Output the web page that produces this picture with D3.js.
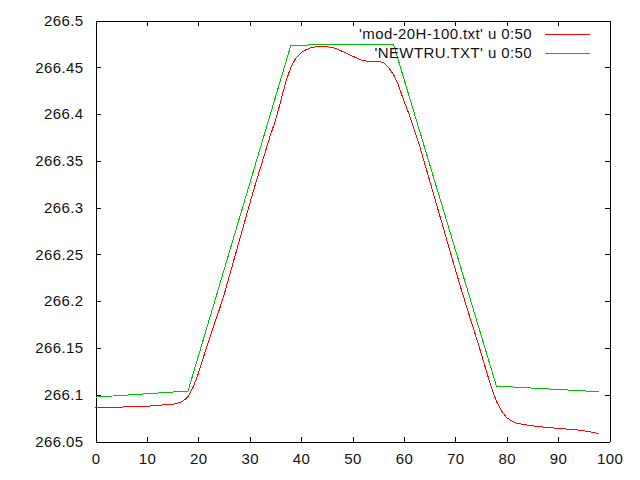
<!DOCTYPE html>
<html>
<head>
<meta charset="utf-8">
<script src="https://cdn.jsdelivr.net/npm/d3@7"></script>
<style>
  html, body { margin: 0; padding: 0; background: #fff; }
  svg { display: block; }
  text { font-family: "Liberation Sans", Arial, sans-serif; font-size: 15px; fill: #111; letter-spacing: 0.4px; }
</style>
</head>
<body>
<svg id="chart" width="640" height="480"></svg>
<script>
// Row index (gnuplot "u 0:50": x is the row number)
const rowIndex = d3.range(0, 99);

// 'mod-20H-100.txt' u 0:50  (red)
const modValues = [
  266.0861, 266.0862, 266.0863, 266.0864, 266.0866, 266.0868, 266.0870, 266.0872, 266.0874, 266.0876,
  266.0878, 266.0880, 266.0885, 266.0890, 266.0893, 266.0898, 266.0910, 266.0930, 266.0980, 266.1080,
  266.1225, 266.1400, 266.1570, 266.1740, 266.1895, 266.2065, 266.2260, 266.2455, 266.2650, 266.2845,
  266.3040, 266.3230, 266.3410, 266.3590, 266.3770, 266.3930, 266.4130, 266.4340, 266.4500, 266.4600,
  266.4655, 266.4690, 266.4710, 266.4720, 266.4722, 266.4720, 266.4712, 266.4695, 266.4670, 266.4645,
  266.4620, 266.4595, 266.4570, 266.4565, 266.4565, 266.4562, 266.4550, 266.4500, 266.4420, 266.4300,
  266.4140, 266.4000, 266.3830, 266.3670, 266.3480, 266.3290, 266.3100, 266.2910, 266.2720, 266.2530,
  266.2340, 266.2155, 266.1975, 266.1800, 266.1625, 266.1450, 266.1260, 266.1080, 266.0930, 266.0825,
  266.0755, 266.0718, 266.0695, 266.0685, 266.0675, 266.0668, 266.0662, 266.0655, 266.0650, 266.0645,
  266.0640, 266.0636, 266.0632, 266.0628, 266.0622, 266.0615, 266.0605, 266.0595, 266.0585
];

// 'NEWTRU.TXT' u 0:50  (green)
const newtruValues = [
  266.0974, 266.0978, 266.0981, 266.0985, 266.0989, 266.0992, 266.0996, 266.0999, 266.1003, 266.1007,
  266.1010, 266.1014, 266.1018, 266.1021, 266.1025, 266.1029, 266.1032, 266.1036, 266.1040, 266.1225,
  266.1409, 266.1594, 266.1779, 266.1963, 266.2148, 266.2333, 266.2517, 266.2702, 266.2887, 266.3071,
  266.3256, 266.3441, 266.3625, 266.3810, 266.3995, 266.4179, 266.4364, 266.4548, 266.4733, 266.4735,
  266.4735, 266.4735, 266.4743, 266.4743, 266.4743, 266.4743, 266.4743, 266.4743, 266.4743, 266.4743,
  266.4743, 266.4743, 266.4743, 266.4743, 266.4743, 266.4743, 266.4743, 266.4743, 266.4743, 266.4560,
  266.4378, 266.4195, 266.4013, 266.3830, 266.3648, 266.3465, 266.3282, 266.3100, 266.2917, 266.2735,
  266.2552, 266.2370, 266.2187, 266.2005, 266.1822, 266.1640, 266.1457, 266.1275, 266.1092, 266.1089,
  266.1086, 266.1083, 266.1080, 266.1077, 266.1074, 266.1071, 266.1068, 266.1065, 266.1062, 266.1059,
  266.1056, 266.1053, 266.1050, 266.1047, 266.1044, 266.1041, 266.1038, 266.1035, 266.1032
];

const xTicks = [0, 10, 20, 30, 40, 50, 60, 70, 80, 90, 100];
const yTicks = [266.05, 266.1, 266.15, 266.2, 266.25, 266.3, 266.35, 266.4, 266.45, 266.5];
const yTickLabels = ["266.05", "266.1", "266.15", "266.2", "266.25", "266.3", "266.35", "266.4", "266.45", "266.5"];

const seriesNames = ["'mod-20H-100.txt' u 0:50", "'NEWTRU.TXT' u 0:50"];
const seriesColors = ["#ff0000", "#00c000"];

const svg = d3.select("#chart");
const L = 95.5, R = 609.5, T = 20.5, B = 441.5;

const x = d3.scaleLinear().domain([0, 100]).range([L, R]);
const y = d3.scaleLinear().domain([266.05, 266.5]).range([B, T]);

const fmtY = d => yTickLabels[yTicks.indexOf(d)];

// Bottom axis with labels, inward ticks
const gB = svg.append("g").attr("transform", `translate(0,${B})`)
  .call(d3.axisBottom(x).tickValues(xTicks).tickSizeInner(-5).tickSizeOuter(0).tickPadding(12).tickFormat(d3.format("d")));
// Top mirror
const gT = svg.append("g").attr("transform", `translate(0,${T})`)
  .call(d3.axisTop(x).tickValues(xTicks).tickSizeInner(-5).tickSizeOuter(0).tickFormat(""));
// Left axis with labels
const gL = svg.append("g").attr("transform", `translate(${L},0)`)
  .call(d3.axisLeft(y).tickValues(yTicks).tickSizeInner(-5).tickSizeOuter(0).tickPadding(12).tickFormat(fmtY));
// Right mirror
const gR = svg.append("g").attr("transform", `translate(${R},0)`)
  .call(d3.axisRight(y).tickValues(yTicks).tickSizeInner(-5).tickSizeOuter(0).tickFormat(""));

[gB, gT, gL, gR].forEach(g => {
  g.selectAll("path.domain").attr("stroke", "#000").attr("stroke-width", 1).attr("shape-rendering", "crispEdges");
  g.selectAll(".tick line").attr("stroke", "#000").attr("stroke-width", 1).attr("shape-rendering", "crispEdges");
  g.selectAll("text").attr("font-family", null).attr("font-size", null).attr("fill", null);
});

// Data lines (aliased, like the gnuplot png terminal)
const line = d3.line().x((d, i) => x(rowIndex[i])).y(d => y(d));
const linesG = svg.append("g");
[modValues, newtruValues].forEach((vals, k) => {
  linesG.append("path")
    .datum(vals)
    .attr("d", line)
    .attr("fill", "none")
    .attr("stroke", seriesColors[k])
    .attr("stroke-width", 1)
    .attr("shape-rendering", "crispEdges");
});

// Legend
const legendRows = [34, 52.5];
seriesNames.forEach((name, k) => {
  svg.append("text")
    .attr("x", 532)
    .attr("y", legendRows[k])
    .attr("dy", "0.35em")
    .attr("text-anchor", "end")
    .text(name);
  svg.append("line")
    .attr("x1", 545).attr("x2", 590)
    .attr("y1", Math.round(legendRows[k]) + 0.5).attr("y2", Math.round(legendRows[k]) + 0.5)
    .attr("stroke", seriesColors[k])
    .attr("stroke-width", 1)
    .attr("shape-rendering", "crispEdges");
});
</script>
</body>
</html>
